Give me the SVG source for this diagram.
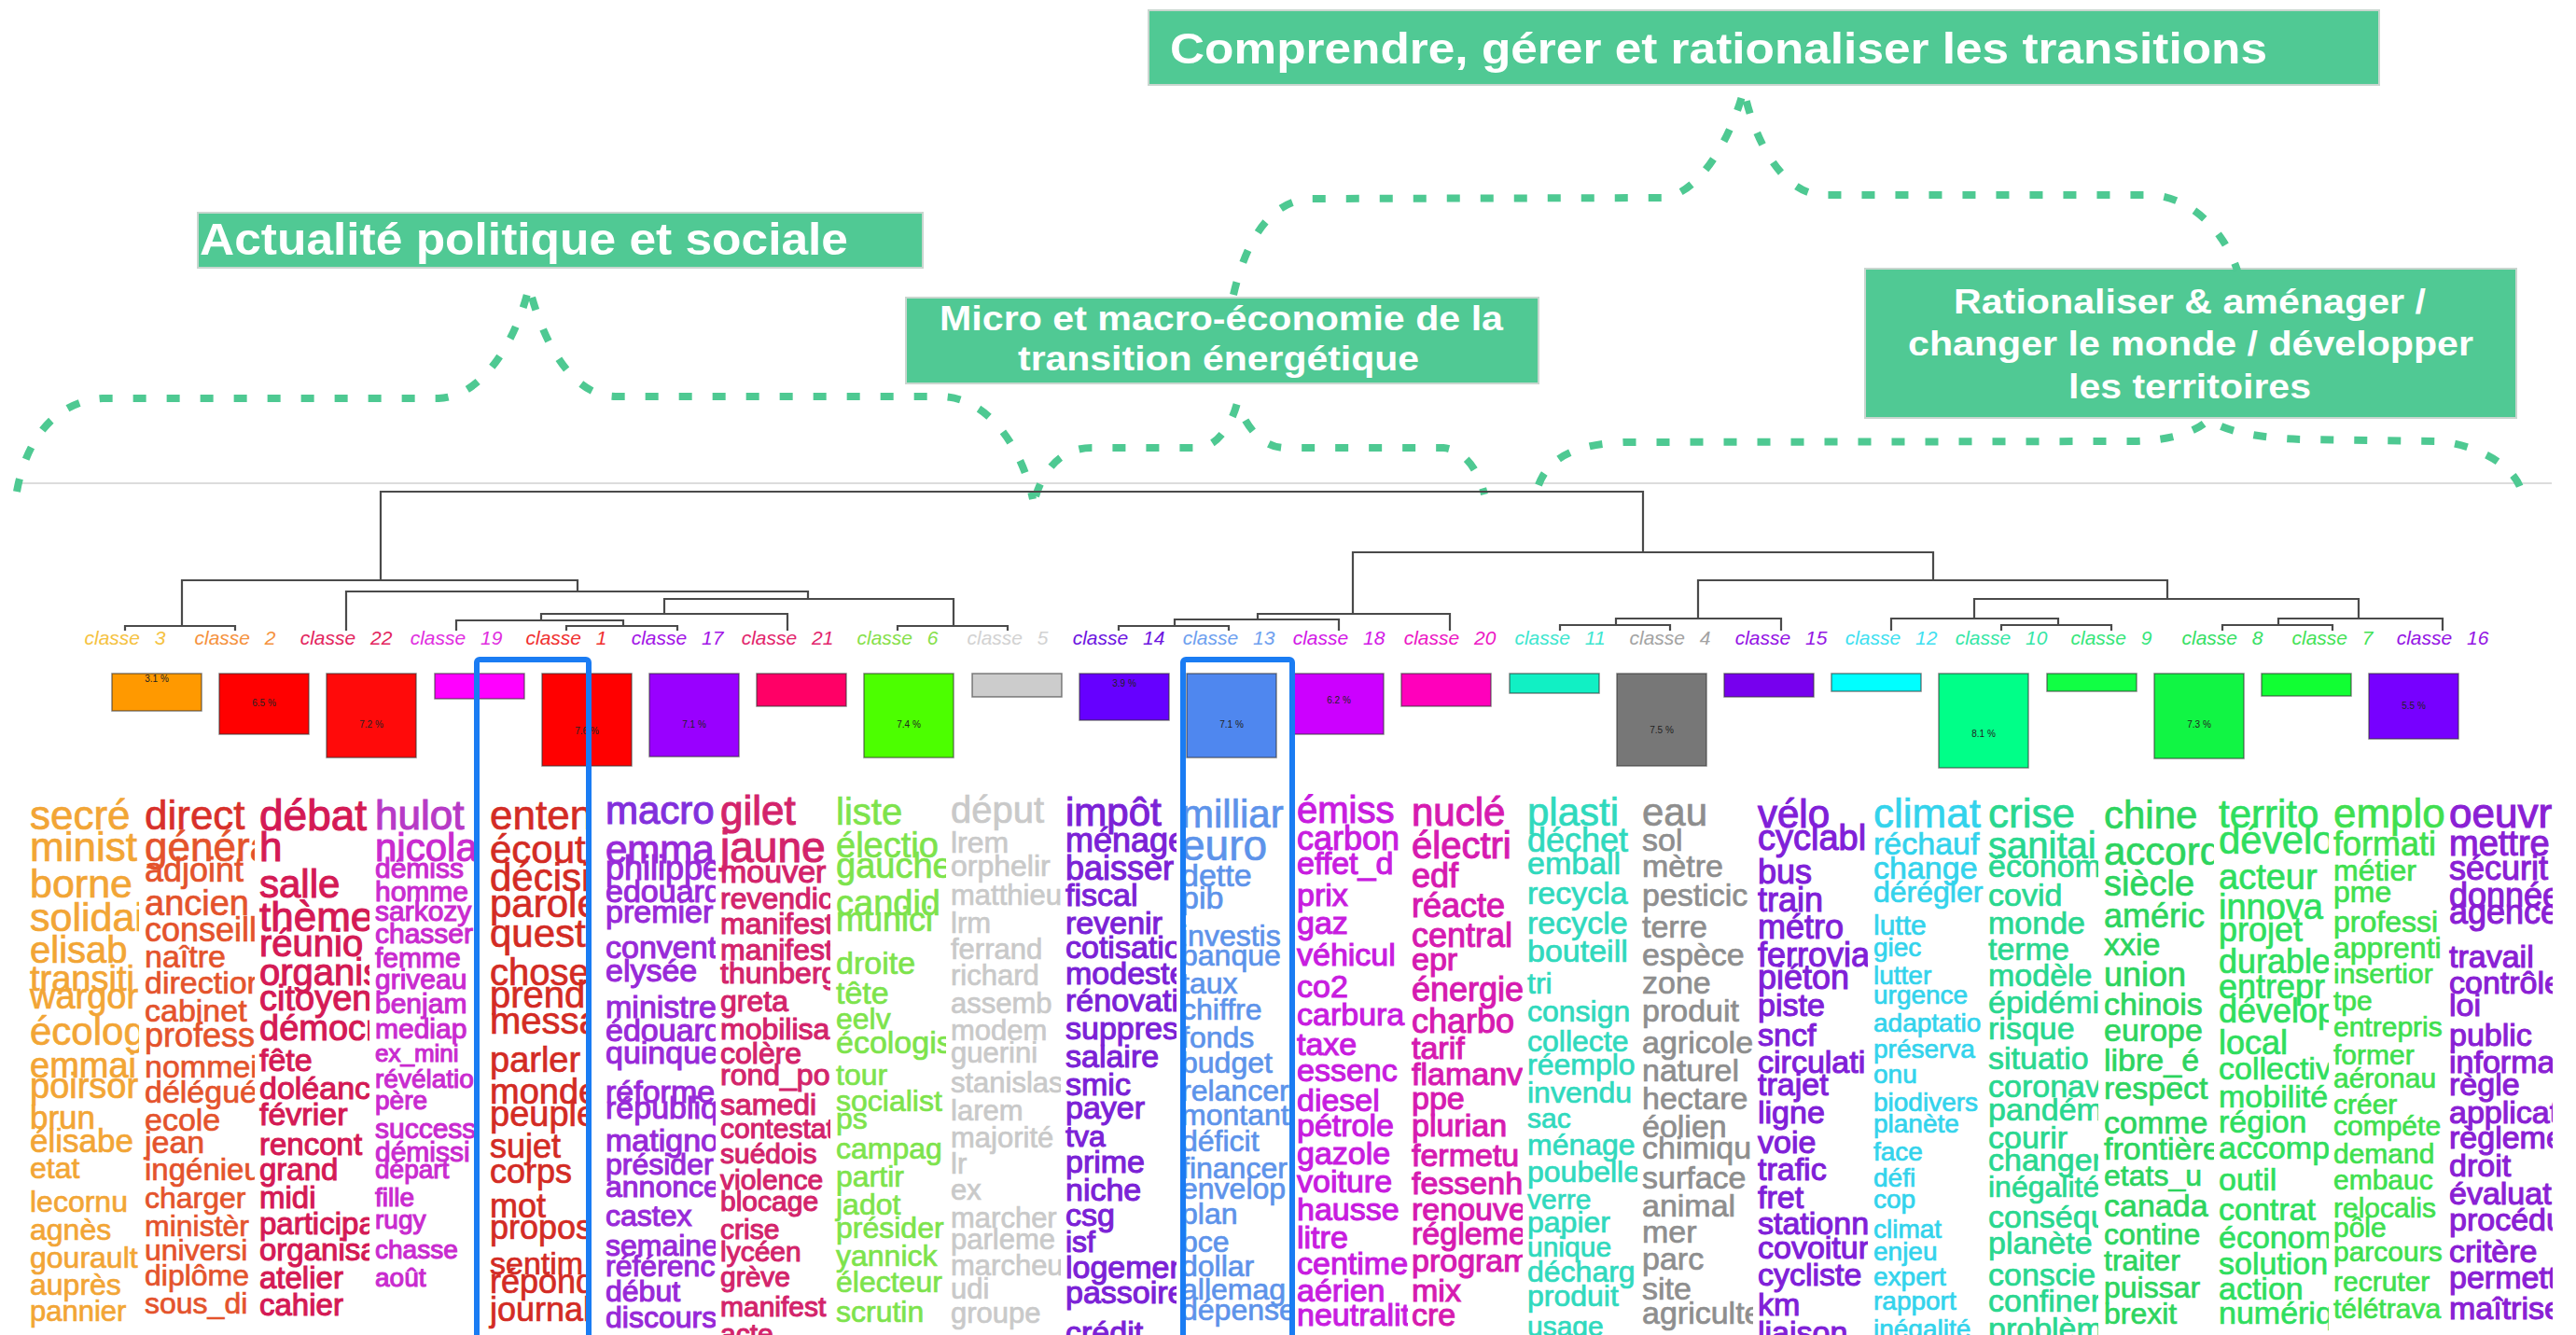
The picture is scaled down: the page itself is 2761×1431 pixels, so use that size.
<svg xmlns="http://www.w3.org/2000/svg" width="2761" height="1431" viewBox="0 0 2761 1431">
<style>
.box{fill:#50c994;stroke:#c9d6cf;stroke-width:2}
.tt{font-family:"Liberation Sans",Arial,sans-serif;font-weight:bold;fill:#fff}
.brace{fill:none;stroke:#4ec992;stroke-width:8;stroke-dasharray:14 22}
.den{fill:none;stroke:#4a4a4a;stroke-width:2.2}
.lab{font-family:"Liberation Sans",Arial,sans-serif;font-style:italic;font-size:21px;text-anchor:middle;word-spacing:10px}
.bar{stroke:#333;stroke-width:1.5;stroke-opacity:.6}
.pct{font-family:"Liberation Sans",Arial,sans-serif;font-size:10px;fill:#222;text-anchor:middle}
.w text{font-family:"Liberation Sans",Arial,sans-serif}
.w{stroke-width:0.7}
.wb{stroke-width:1.1}
.hl{fill:none;stroke:#1a7cf3;stroke-width:6}
</style>
<defs>
<clipPath id="c1"><rect x="28" y="845" width="121" height="600"/></clipPath>
<clipPath id="c2"><rect x="152" y="845" width="121" height="600"/></clipPath>
<clipPath id="c3"><rect x="275" y="845" width="121" height="600"/></clipPath>
<clipPath id="c4"><rect x="399" y="845" width="110" height="600"/></clipPath>
<clipPath id="c5"><rect x="514" y="845" width="114" height="600"/></clipPath>
<clipPath id="c6"><rect x="646" y="845" width="121" height="600"/></clipPath>
<clipPath id="c7"><rect x="769" y="845" width="121" height="600"/></clipPath>
<clipPath id="c8"><rect x="893" y="845" width="121" height="600"/></clipPath>
<clipPath id="c9"><rect x="1016" y="845" width="121" height="600"/></clipPath>
<clipPath id="c10"><rect x="1140" y="845" width="121" height="600"/></clipPath>
<clipPath id="c11"><rect x="1264" y="845" width="120" height="600"/></clipPath>
<clipPath id="c12"><rect x="1389" y="845" width="120" height="600"/></clipPath>
<clipPath id="c13"><rect x="1511" y="845" width="121" height="600"/></clipPath>
<clipPath id="c14"><rect x="1634" y="845" width="121" height="600"/></clipPath>
<clipPath id="c15"><rect x="1758" y="845" width="121" height="600"/></clipPath>
<clipPath id="c16"><rect x="1881" y="845" width="121" height="600"/></clipPath>
<clipPath id="c17"><rect x="2005" y="845" width="121" height="600"/></clipPath>
<clipPath id="c18"><rect x="2128" y="845" width="121" height="600"/></clipPath>
<clipPath id="c19"><rect x="2252" y="845" width="121" height="600"/></clipPath>
<clipPath id="c20"><rect x="2375" y="845" width="121" height="600"/></clipPath>
<clipPath id="c21"><rect x="2499" y="845" width="121" height="600"/></clipPath>
<clipPath id="c22"><rect x="2622" y="845" width="114" height="600"/></clipPath>
</defs>
<rect width="2761" height="1431" fill="#fff"/>

<g id="title-comprendre"><rect class="box" x="1231" y="11" width="1319" height="80"/><text class="tt" x="1254" y="68" font-size="46" textLength="1176" lengthAdjust="spacingAndGlyphs">Comprendre, gérer et rationaliser les transitions</text></g>
<g id="title-actualite"><rect class="box" x="212" y="228" width="777" height="59"/><text class="tt" x="214" y="273" font-size="48" textLength="695" lengthAdjust="spacingAndGlyphs">Actualité politique et sociale</text></g>
<g id="title-micro"><rect class="box" x="971" y="319" width="678" height="92"/><text class="tt" x="1309" y="354" font-size="36" text-anchor="middle" textLength="604" lengthAdjust="spacingAndGlyphs">Micro et macro-économie de la</text><text class="tt" x="1306" y="397" font-size="36" text-anchor="middle" textLength="430" lengthAdjust="spacingAndGlyphs">transition énergétique</text></g>
<g id="title-rationaliser"><rect class="box" x="1999" y="288" width="698" height="160"/><text class="tt" x="2347" y="336" font-size="36" text-anchor="middle" textLength="506" lengthAdjust="spacingAndGlyphs">Rationaliser &amp; aménager /</text><text class="tt" x="2348" y="381" font-size="36" text-anchor="middle" textLength="606" lengthAdjust="spacingAndGlyphs">changer le monde / développer</text><text class="tt" x="2347" y="427" font-size="36" text-anchor="middle" textLength="260" lengthAdjust="spacingAndGlyphs">les territoires</text></g>

<g id="connectors">
<line x1="18" y1="518" x2="2735" y2="518" stroke="#dcdcdc" stroke-width="2"/>
<path class="brace" d="M18,527 C28,470 60,430 110,427 L470,427 C520,425 555,360 567,307 C580,360 610,425 660,425 L1010,425 C1060,427 1095,480 1107,535"/>
<path class="brace" d="M1110,532 C1120,500 1140,480 1170,480 L1286,480 C1305,478 1320,455 1326,432 C1335,455 1350,478 1375,480 L1547,480 C1570,482 1585,505 1591,530"/>
<path class="brace" d="M1322,316 C1335,260 1360,215 1405,213 L1781,212 C1820,210 1855,150 1869,96 C1880,150 1910,207 1953,209 L2305,209 C2350,211 2385,250 2398,290"/>
<path class="brace" d="M1649,520 C1660,490 1690,476 1740,474 L2287,473 C2330,472 2355,462 2367,450 C2385,462 2420,470 2470,471 L2613,473 C2650,476 2690,495 2701,522"/>
<path class="den" d="M408,622 V527 H1761 V592
M195,671 V622 H619 V634
M134,676 V671 H252 V676
M371,676 V634 H866 V642
M712,658 V642 H1022 V671
M580,665 V658 H844 V676
M489,676 V665 H668 V671
M607,676 V671 H726 V676
M962,676 V671 H1080 V676
M1450,658 V592 H2072 V622
M1348,664 V658 H1554 V676
M1259,671 V664 H1435 V676
M1199,676 V671 H1317 V676
M1820,663 V622 H2323 V642
M1732,670 V663 H1909 V676
M1672,676 V670 H1790 V676
M2116,663 V642 H2528 V663
M2206,670 V663 H2027 V676
M2145,676 V670 H2263 V676
M2442,670 V663 H2618 V676
M2382,676 V670 H2500 V676"/>
</g>

<g id="classes">
<g id="classe-3"><text class="lab" x="134" y="691" fill="#f5c242">classe 3</text><rect class="bar" x="120" y="722" width="96" height="40" fill="#ff9900"/><text class="pct" x="168" y="731">3.1 %</text></g>
<g id="classe-2"><text class="lab" x="252" y="691" fill="#f5923e">classe 2</text><rect class="bar" x="235" y="722" width="96" height="65" fill="#ff0000"/><text class="pct" x="283" y="757">6.5 %</text></g>
<g id="classe-22"><text class="lab" x="371" y="691" fill="#e3245e">classe 22</text><rect class="bar" x="350" y="722" width="96" height="90" fill="#ff0a0a"/><text class="pct" x="398" y="780">7.2 %</text></g>
<g id="classe-19"><text class="lab" x="489" y="691" fill="#e02ee0">classe 19</text><rect class="bar" x="466" y="722" width="96" height="27" fill="#ff00ff"/></g>
<g id="classe-1"><text class="lab" x="607" y="691" fill="#f03030">classe 1</text><rect class="bar" x="581" y="722" width="96" height="99" fill="#ff0000"/><text class="pct" x="629" y="787">7.6 %</text></g>
<g id="classe-17"><text class="lab" x="726" y="691" fill="#a214e6">classe 17</text><rect class="bar" x="696" y="722" width="96" height="89" fill="#9900ff"/><text class="pct" x="744" y="780">7.1 %</text></g>
<g id="classe-21"><text class="lab" x="844" y="691" fill="#e2246c">classe 21</text><rect class="bar" x="811" y="722" width="96" height="35" fill="#ff0066"/></g>
<g id="classe-6"><text class="lab" x="962" y="691" fill="#86e04a">classe 6</text><rect class="bar" x="926" y="722" width="96" height="90" fill="#4cff00"/><text class="pct" x="974" y="780">7.4 %</text></g>
<g id="classe-5"><text class="lab" x="1080" y="691" fill="#d2d2d2">classe 5</text><rect class="bar" x="1042" y="722" width="96" height="25" fill="#cccccc"/></g>
<g id="classe-14"><text class="lab" x="1199" y="691" fill="#6d14e0">classe 14</text><rect class="bar" x="1157" y="722" width="96" height="50" fill="#6600ff"/><text class="pct" x="1205" y="736">3.9 %</text></g>
<g id="classe-13"><text class="lab" x="1317" y="691" fill="#6ea0ef">classe 13</text><rect class="bar" x="1272" y="722" width="96" height="90" fill="#4f87ef"/><text class="pct" x="1320" y="780">7.1 %</text></g>
<g id="classe-18"><text class="lab" x="1435" y="691" fill="#d218e6">classe 18</text><rect class="bar" x="1387" y="722" width="96" height="65" fill="#cc00ff"/><text class="pct" x="1435" y="754">6.2 %</text></g>
<g id="classe-20"><text class="lab" x="1554" y="691" fill="#ec18c4">classe 20</text><rect class="bar" x="1502" y="722" width="96" height="35" fill="#ff00bb"/></g>
<g id="classe-11"><text class="lab" x="1672" y="691" fill="#3ee6cf">classe 11</text><rect class="bar" x="1618" y="722" width="96" height="21" fill="#11f0c4"/></g>
<g id="classe-4"><text class="lab" x="1790" y="691" fill="#a3a3a3">classe 4</text><rect class="bar" x="1733" y="722" width="96" height="99" fill="#777777"/><text class="pct" x="1781" y="786">7.5 %</text></g>
<g id="classe-15"><text class="lab" x="1909" y="691" fill="#9414e4">classe 15</text><rect class="bar" x="1848" y="722" width="96" height="25" fill="#7700ee"/></g>
<g id="classe-12"><text class="lab" x="2027" y="691" fill="#40dff0">classe 12</text><rect class="bar" x="1963" y="722" width="96" height="19" fill="#00ffff"/></g>
<g id="classe-10"><text class="lab" x="2145" y="691" fill="#36e6a6">classe 10</text><rect class="bar" x="2078" y="722" width="96" height="101" fill="#00ff88"/><text class="pct" x="2126" y="790">8.1 %</text></g>
<g id="classe-9"><text class="lab" x="2263" y="691" fill="#36e67a">classe 9</text><rect class="bar" x="2194" y="722" width="96" height="19" fill="#11ff44"/></g>
<g id="classe-8"><text class="lab" x="2382" y="691" fill="#36e064">classe 8</text><rect class="bar" x="2309" y="722" width="96" height="91" fill="#11f544"/><text class="pct" x="2357" y="780">7.3 %</text></g>
<g id="classe-7"><text class="lab" x="2500" y="691" fill="#44e256">classe 7</text><rect class="bar" x="2424" y="722" width="96" height="24" fill="#11ff33"/></g>
<g id="classe-16"><text class="lab" x="2618" y="691" fill="#9414e4">classe 16</text><rect class="bar" x="2539" y="722" width="96" height="70" fill="#7700ff"/><text class="pct" x="2587" y="760">5.5 %</text></g>
</g>

<g id="words">
<g id="col-1" class="w" clip-path="url(#c1)" fill="#f2a535" stroke="#f2a535">
<text x="32" y="889" font-size="44">secré</text><text x="32" y="923" font-size="44">minist</text><text x="32" y="962" font-size="43">borne</text><text x="32" y="998" font-size="43">solidai</text><text x="32" y="1032" font-size="40">elisab</text><text x="32" y="1062" font-size="38">transiti</text><text x="32" y="1081" font-size="38">wargor</text><text x="32" y="1120" font-size="42">écolog</text><text x="32" y="1155" font-size="38">emmai</text><text x="32" y="1177" font-size="38">poirsor</text><text x="32" y="1210" font-size="35">brun</text><text x="32" y="1235" font-size="35">élisabe</text><text x="32" y="1263" font-size="32">etat</text><text x="32" y="1299" font-size="32">lecornu</text><text x="32" y="1329" font-size="32">agnès</text><text x="32" y="1359" font-size="32">gourault</text><text x="32" y="1388" font-size="32">auprès</text><text x="32" y="1416" font-size="31">pannier</text>
</g>
<g id="col-2" class="w" clip-path="url(#c2)" fill="#e4532c" stroke="#e4532c">
<text x="155" y="889" font-size="44" fill="#d8302a" stroke="#d8302a">direct</text><text x="155" y="923" font-size="44">généra</text><text x="155" y="945" font-size="36">adjoint</text><text x="155" y="981" font-size="38">ancien</text><text x="155" y="1009" font-size="36">conseill</text><text x="155" y="1037" font-size="34">naître</text><text x="155" y="1065" font-size="34">directior</text><text x="155" y="1095" font-size="34">cabinet</text><text x="155" y="1122" font-size="36">professe</text><text x="155" y="1155" font-size="34">nommei</text><text x="155" y="1182" font-size="34">délégué</text><text x="155" y="1212" font-size="34">ecole</text><text x="155" y="1236" font-size="34">jean</text><text x="155" y="1265" font-size="33">ingénieu</text><text x="155" y="1295" font-size="32">charger</text><text x="155" y="1325" font-size="32">ministèr</text><text x="155" y="1351" font-size="32">universi</text><text x="155" y="1378" font-size="32">diplôme</text><text x="155" y="1408" font-size="32">sous_di</text>
</g>
<g id="col-3" class="w wb" clip-path="url(#c3)" fill="#d41a55" stroke="#d41a55">
<text x="278" y="890" font-size="46">débat</text><text x="278" y="923" font-size="44">h</text><text x="278" y="962" font-size="42">salle</text><text x="278" y="998" font-size="44">thème</text><text x="278" y="1025" font-size="40">réunio</text><text x="278" y="1056" font-size="40">organis</text><text x="278" y="1083" font-size="38">citoyen</text><text x="278" y="1115" font-size="38">démocr</text><text x="278" y="1148" font-size="34">fête</text><text x="278" y="1178" font-size="34">doléanc</text><text x="278" y="1206" font-size="34">février</text><text x="278" y="1238" font-size="33">rencont</text><text x="278" y="1265" font-size="33">grand</text><text x="278" y="1295" font-size="33">midi</text><text x="278" y="1323" font-size="33">participa</text><text x="278" y="1351" font-size="33">organisa</text><text x="278" y="1381" font-size="33">atelier</text><text x="278" y="1410" font-size="33">cahier</text>
</g>
<g id="col-4" class="w wb" clip-path="url(#c4)" fill="#c92bcf" stroke="#c92bcf">
<text x="402" y="889" font-size="44" fill="#b73ac6" stroke="#b73ac6">hulot</text><text x="402" y="923" font-size="42">nicola</text><text x="402" y="941" font-size="30">démiss</text><text x="402" y="966" font-size="30">homme</text><text x="402" y="987" font-size="30">sarkozy</text><text x="402" y="1011" font-size="30">chasser</text><text x="402" y="1037" font-size="30">femme</text><text x="402" y="1060" font-size="30">griveau</text><text x="402" y="1086" font-size="30">benjam</text><text x="402" y="1113" font-size="30">mediap</text><text x="402" y="1138" font-size="26">ex_mini</text><text x="402" y="1166" font-size="28">révélatio</text><text x="402" y="1189" font-size="28">père</text><text x="402" y="1220" font-size="30">success</text><text x="402" y="1245" font-size="30">démissi</text><text x="402" y="1263" font-size="28">départ</text><text x="402" y="1293" font-size="28">fille</text><text x="402" y="1317" font-size="28">rugy</text><text x="402" y="1349" font-size="28">chasse</text><text x="402" y="1379" font-size="28">août</text>
</g>
<g id="col-5" class="w" clip-path="url(#c5)" fill="#d32b24" stroke="#d32b24">
<text x="525" y="889" font-size="44">enten</text><text x="525" y="925" font-size="42">écoute</text><text x="525" y="955" font-size="42">décisi</text><text x="525" y="983" font-size="42">parole</text><text x="525" y="1015" font-size="42">questi</text><text x="525" y="1056" font-size="40">chose</text><text x="525" y="1080" font-size="40">prendr</text><text x="525" y="1108" font-size="40">messa</text><text x="525" y="1149" font-size="38">parler</text><text x="525" y="1183" font-size="38">monde</text><text x="525" y="1207" font-size="38">peuple</text><text x="525" y="1241" font-size="36">sujet</text><text x="525" y="1268" font-size="36">corps</text><text x="525" y="1305" font-size="36">mot</text><text x="525" y="1328" font-size="36">propos</text><text x="525" y="1366" font-size="34">sentim</text><text x="525" y="1386" font-size="36">répond</text><text x="525" y="1416" font-size="36">journal</text>
</g>
<g id="col-6" class="w wb" clip-path="url(#c6)" fill="#982ad8" stroke="#982ad8">
<text x="649" y="883" font-size="42" fill="#8230dc" stroke="#8230dc">macro</text><text x="649" y="925" font-size="42">emma</text><text x="649" y="943" font-size="36">philippe</text><text x="649" y="967" font-size="34">edouard</text><text x="649" y="989" font-size="34">premier</text><text x="649" y="1027" font-size="34">convent</text><text x="649" y="1052" font-size="34">elysée</text><text x="649" y="1091" font-size="34">ministre</text><text x="649" y="1116" font-size="34">édouard</text><text x="649" y="1140" font-size="34">quinque</text><text x="649" y="1182" font-size="34">réforme</text><text x="649" y="1199" font-size="34">républiq</text><text x="649" y="1234" font-size="34">matigno</text><text x="649" y="1259" font-size="32">présider</text><text x="649" y="1283" font-size="32">annonce</text><text x="649" y="1314" font-size="32">castex</text><text x="649" y="1346" font-size="32">semaine</text><text x="649" y="1368" font-size="32">référenc</text><text x="649" y="1395" font-size="32">début</text><text x="649" y="1423" font-size="32">discours</text>
</g>
<g id="col-7" class="w wb" clip-path="url(#c7)" fill="#d3246b" stroke="#d3246b">
<text x="772" y="884" font-size="44">gilet</text><text x="772" y="924" font-size="46">jaune</text><text x="772" y="946" font-size="34">mouver</text><text x="772" y="974" font-size="32">revendic</text><text x="772" y="1001" font-size="32">manifest</text><text x="772" y="1029" font-size="32">manifest</text><text x="772" y="1054" font-size="32">thunberg</text><text x="772" y="1084" font-size="32">greta</text><text x="772" y="1114" font-size="32">mobilisa</text><text x="772" y="1140" font-size="32">colère</text><text x="772" y="1163" font-size="32">rond_po</text><text x="772" y="1195" font-size="32">samedi</text><text x="772" y="1220" font-size="30">contestat</text><text x="772" y="1247" font-size="30">suédois</text><text x="772" y="1275" font-size="30">violence</text><text x="772" y="1298" font-size="30">blocage</text><text x="772" y="1328" font-size="30">crise</text><text x="772" y="1352" font-size="30">lycéen</text><text x="772" y="1379" font-size="30">grève</text><text x="772" y="1411" font-size="30">manifest</text><text x="772" y="1440" font-size="30">acte</text>
</g>
<g id="col-8" class="w" clip-path="url(#c8)" fill="#7de34c" stroke="#7de34c">
<text x="896" y="884" font-size="40">liste</text><text x="896" y="919" font-size="38">électio</text><text x="896" y="941" font-size="38">gauche</text><text x="896" y="981" font-size="38">candid</text><text x="896" y="998" font-size="36">munici</text><text x="896" y="1044" font-size="34">droite</text><text x="896" y="1076" font-size="34">tête</text><text x="896" y="1103" font-size="32">eelv</text><text x="896" y="1129" font-size="34">écologis</text><text x="896" y="1163" font-size="32">tour</text><text x="896" y="1191" font-size="32">socialist</text><text x="896" y="1210" font-size="32">ps</text><text x="896" y="1242" font-size="32">campag</text><text x="896" y="1272" font-size="32">partir</text><text x="896" y="1302" font-size="32">jadot</text><text x="896" y="1327" font-size="32">présider</text><text x="896" y="1357" font-size="32">yannick</text><text x="896" y="1385" font-size="32">électeur</text><text x="896" y="1417" font-size="32">scrutin</text>
</g>
<g id="col-9" class="w" clip-path="url(#c9)" fill="#c9c9c9" stroke="#c9c9c9" stroke-width="0.3">
<text x="1019" y="882" font-size="40">déput</text><text x="1019" y="914" font-size="32">lrem</text><text x="1019" y="939" font-size="32">orphelir</text><text x="1019" y="970" font-size="31">matthieu</text><text x="1019" y="1000" font-size="31">lrm</text><text x="1019" y="1028" font-size="31">ferrand</text><text x="1019" y="1056" font-size="31">richard</text><text x="1019" y="1086" font-size="31">assemb</text><text x="1019" y="1115" font-size="31">modem</text><text x="1019" y="1139" font-size="31">guerini</text><text x="1019" y="1171" font-size="31">stanislas</text><text x="1019" y="1201" font-size="31">larem</text><text x="1019" y="1230" font-size="31">majorité</text><text x="1019" y="1258" font-size="31">lr</text><text x="1019" y="1286" font-size="31">ex</text><text x="1019" y="1316" font-size="31">marcher</text><text x="1019" y="1339" font-size="31">parleme</text><text x="1019" y="1367" font-size="31">marcheu</text><text x="1019" y="1392" font-size="31">udi</text><text x="1019" y="1418" font-size="31">groupe</text>
</g>
<g id="col-10" class="w wb" clip-path="url(#c10)" fill="#7b22d6" stroke="#7b22d6">
<text x="1142" y="885" font-size="42">impôt</text><text x="1142" y="913" font-size="36">ménage</text><text x="1142" y="943" font-size="36">baisser</text><text x="1142" y="971" font-size="34">fiscal</text><text x="1142" y="1001" font-size="34">revenir</text><text x="1142" y="1027" font-size="34">cotisatio</text><text x="1142" y="1055" font-size="34">modeste</text><text x="1142" y="1084" font-size="34">rénovati</text><text x="1142" y="1114" font-size="34">suppres</text><text x="1142" y="1144" font-size="34">salaire</text><text x="1142" y="1174" font-size="34">smic</text><text x="1142" y="1199" font-size="34">payer</text><text x="1142" y="1229" font-size="32">tva</text><text x="1142" y="1257" font-size="34">prime</text><text x="1142" y="1287" font-size="34">niche</text><text x="1142" y="1314" font-size="34">csg</text><text x="1142" y="1342" font-size="32">isf</text><text x="1142" y="1370" font-size="34">logemen</text><text x="1142" y="1397" font-size="34">passoire</text><text x="1142" y="1440" font-size="34">crédit</text>
</g>
<g id="col-11" class="w" clip-path="url(#c11)" fill="#5d93ea" stroke="#5d93ea">
<text x="1266" y="887" font-size="42">milliar</text><text x="1266" y="922" font-size="46">euro</text><text x="1266" y="950" font-size="34">dette</text><text x="1266" y="974" font-size="34">pib</text><text x="1266" y="1014" font-size="32">investis</text><text x="1266" y="1035" font-size="32">banque</text><text x="1266" y="1065" font-size="32">taux</text><text x="1266" y="1093" font-size="32">chiffre</text><text x="1266" y="1123" font-size="32">fonds</text><text x="1266" y="1150" font-size="32">budget</text><text x="1266" y="1180" font-size="32">relancer</text><text x="1266" y="1206" font-size="32">montant</text><text x="1266" y="1234" font-size="32">déficit</text><text x="1266" y="1263" font-size="32">financer</text><text x="1266" y="1285" font-size="32">envelop</text><text x="1266" y="1312" font-size="32">plan</text><text x="1266" y="1342" font-size="32">bce</text><text x="1266" y="1368" font-size="32">dollar</text><text x="1266" y="1393" font-size="32">allemag</text><text x="1266" y="1415" font-size="32">dépense</text>
</g>
<g id="col-12" class="w wb" clip-path="url(#c12)" fill="#c81ddf" stroke="#c81ddf">
<text x="1390" y="882" font-size="40">émiss</text><text x="1390" y="911" font-size="36">carbon</text><text x="1390" y="937" font-size="34">effet_d</text><text x="1390" y="971" font-size="34">prix</text><text x="1390" y="1001" font-size="34">gaz</text><text x="1390" y="1035" font-size="34">véhicul</text><text x="1390" y="1069" font-size="34">co2</text><text x="1390" y="1099" font-size="34">carbura</text><text x="1390" y="1131" font-size="34">taxe</text><text x="1390" y="1159" font-size="34">essenc</text><text x="1390" y="1191" font-size="34">diesel</text><text x="1390" y="1218" font-size="34">pétrole</text><text x="1390" y="1248" font-size="34">gazole</text><text x="1390" y="1278" font-size="34">voiture</text><text x="1390" y="1308" font-size="34">hausse</text><text x="1390" y="1338" font-size="34">litre</text><text x="1390" y="1366" font-size="34">centime</text><text x="1390" y="1395" font-size="34">aérien</text><text x="1390" y="1421" font-size="34">neutralit</text>
</g>
<g id="col-13" class="w wb" clip-path="url(#c13)" fill="#d61bb0" stroke="#d61bb0">
<text x="1513" y="885" font-size="42">nuclé</text><text x="1513" y="920" font-size="40">électri</text><text x="1513" y="951" font-size="36">edf</text><text x="1513" y="983" font-size="36">réacte</text><text x="1513" y="1015" font-size="36">central</text><text x="1513" y="1040" font-size="34">epr</text><text x="1513" y="1073" font-size="36">énergie</text><text x="1513" y="1107" font-size="36">charbo</text><text x="1513" y="1135" font-size="34">tarif</text><text x="1513" y="1163" font-size="34">flamanv</text><text x="1513" y="1189" font-size="34">ppe</text><text x="1513" y="1218" font-size="34">plurian</text><text x="1513" y="1250" font-size="34">fermetu</text><text x="1513" y="1280" font-size="34">fessenh</text><text x="1513" y="1308" font-size="34">renouve</text><text x="1513" y="1334" font-size="34">régleme</text><text x="1513" y="1363" font-size="34">program</text><text x="1513" y="1395" font-size="34">mix</text><text x="1513" y="1421" font-size="34">cre</text>
</g>
<g id="col-14" class="w" clip-path="url(#c14)" fill="#30d9bd" stroke="#30d9bd">
<text x="1637" y="885" font-size="42">plasti</text><text x="1637" y="913" font-size="36">déchet</text><text x="1637" y="937" font-size="34">emball</text><text x="1637" y="969" font-size="34">recycla</text><text x="1637" y="1001" font-size="34">recycle</text><text x="1637" y="1031" font-size="34">bouteill</text><text x="1637" y="1065" font-size="32">tri</text><text x="1637" y="1095" font-size="32">consign</text><text x="1637" y="1127" font-size="32">collecte</text><text x="1637" y="1152" font-size="32">réemplo</text><text x="1637" y="1182" font-size="32">invendu</text><text x="1637" y="1209" font-size="30">sac</text><text x="1637" y="1238" font-size="32">ménage</text><text x="1637" y="1267" font-size="32">poubelle</text><text x="1637" y="1296" font-size="30">verre</text><text x="1637" y="1321" font-size="32">papier</text><text x="1637" y="1347" font-size="30">unique</text><text x="1637" y="1374" font-size="32">décharg</text><text x="1637" y="1400" font-size="32">produit</text><text x="1637" y="1432" font-size="30">usage</text>
</g>
<g id="col-15" class="w" clip-path="url(#c15)" fill="#8e8e8e" stroke="#8e8e8e" stroke-width="0.3">
<text x="1760" y="885" font-size="42">eau</text><text x="1760" y="912" font-size="34">sol</text><text x="1760" y="940" font-size="34">mètre</text><text x="1760" y="971" font-size="34">pesticic</text><text x="1760" y="1005" font-size="34">terre</text><text x="1760" y="1035" font-size="34">espèce</text><text x="1760" y="1065" font-size="34">zone</text><text x="1760" y="1095" font-size="34">produit</text><text x="1760" y="1129" font-size="34">agricole</text><text x="1760" y="1159" font-size="34">naturel</text><text x="1760" y="1189" font-size="34">hectare</text><text x="1760" y="1219" font-size="34">éolien</text><text x="1760" y="1242" font-size="34">chimiqu</text><text x="1760" y="1274" font-size="34">surface</text><text x="1760" y="1304" font-size="34">animal</text><text x="1760" y="1332" font-size="34">mer</text><text x="1760" y="1361" font-size="34">parc</text><text x="1760" y="1393" font-size="34">site</text><text x="1760" y="1419" font-size="34">agriculte</text>
</g>
<g id="col-16" class="w wb" clip-path="url(#c16)" fill="#8020d8" stroke="#8020d8">
<text x="1884" y="887" font-size="42">vélo</text><text x="1884" y="911" font-size="38">cyclabl</text><text x="1884" y="947" font-size="36">bus</text><text x="1884" y="977" font-size="36">train</text><text x="1884" y="1006" font-size="36">métro</text><text x="1884" y="1036" font-size="36">ferrovia</text><text x="1884" y="1060" font-size="36">piéton</text><text x="1884" y="1089" font-size="34">piste</text><text x="1884" y="1121" font-size="34">sncf</text><text x="1884" y="1150" font-size="34">circulati</text><text x="1884" y="1174" font-size="34">trajet</text><text x="1884" y="1204" font-size="34">ligne</text><text x="1884" y="1236" font-size="34">voie</text><text x="1884" y="1265" font-size="34">trafic</text><text x="1884" y="1295" font-size="34">fret</text><text x="1884" y="1323" font-size="34">stationn</text><text x="1884" y="1349" font-size="34">covoitur</text><text x="1884" y="1378" font-size="34">cycliste</text><text x="1884" y="1410" font-size="34">km</text><text x="1884" y="1440" font-size="34">liaison</text>
</g>
<g id="col-17" class="w" clip-path="url(#c17)" fill="#33d3ec" stroke="#33d3ec">
<text x="2008" y="887" font-size="44">climat</text><text x="2008" y="916" font-size="34">réchauf</text><text x="2008" y="942" font-size="34">change</text><text x="2008" y="967" font-size="32">dérégler</text><text x="2008" y="1002" font-size="30">lutte</text><text x="2008" y="1025" font-size="28">giec</text><text x="2008" y="1055" font-size="28">lutter</text><text x="2008" y="1076" font-size="28">urgence</text><text x="2008" y="1106" font-size="28">adaptatio</text><text x="2008" y="1134" font-size="28">préserva</text><text x="2008" y="1161" font-size="28">onu</text><text x="2008" y="1191" font-size="28">biodivers</text><text x="2008" y="1214" font-size="28">planète</text><text x="2008" y="1244" font-size="28">face</text><text x="2008" y="1272" font-size="28">défi</text><text x="2008" y="1295" font-size="28">cop</text><text x="2008" y="1327" font-size="28">climat</text><text x="2008" y="1351" font-size="28">enjeu</text><text x="2008" y="1378" font-size="28">expert</text><text x="2008" y="1404" font-size="28">rapport</text><text x="2008" y="1434" font-size="28">inégalité</text>
</g>
<g id="col-18" class="w" clip-path="url(#c18)" fill="#29d78f" stroke="#29d78f">
<text x="2131" y="887" font-size="44">crise</text><text x="2131" y="920" font-size="40">sanitai</text><text x="2131" y="940" font-size="34">économ</text><text x="2131" y="971" font-size="34">covid</text><text x="2131" y="1001" font-size="34">monde</text><text x="2131" y="1029" font-size="34">terme</text><text x="2131" y="1057" font-size="34">modèle</text><text x="2131" y="1086" font-size="34">épidémi</text><text x="2131" y="1114" font-size="34">risque</text><text x="2131" y="1146" font-size="34">situatio</text><text x="2131" y="1176" font-size="34">coronav</text><text x="2131" y="1201" font-size="34">pandém</text><text x="2131" y="1231" font-size="34">courir</text><text x="2131" y="1255" font-size="34">changer</text><text x="2131" y="1283" font-size="32">inégalité</text><text x="2131" y="1316" font-size="34">conséqu</text><text x="2131" y="1344" font-size="34">planète</text><text x="2131" y="1378" font-size="34">conscie</text><text x="2131" y="1406" font-size="34">confiner</text><text x="2131" y="1436" font-size="34">problèm</text>
</g>
<g id="col-19" class="w" clip-path="url(#c19)" fill="#2dd45e" stroke="#2dd45e">
<text x="2255" y="888" font-size="42">chine</text><text x="2255" y="927" font-size="42">accord</text><text x="2255" y="960" font-size="38">siècle</text><text x="2255" y="994" font-size="36">améric</text><text x="2255" y="1024" font-size="34">xxie</text><text x="2255" y="1057" font-size="36">union</text><text x="2255" y="1088" font-size="34">chinois</text><text x="2255" y="1116" font-size="34">europe</text><text x="2255" y="1148" font-size="34">libre_é</text><text x="2255" y="1178" font-size="34">respect</text><text x="2255" y="1215" font-size="34">comme</text><text x="2255" y="1243" font-size="34">frontière</text><text x="2255" y="1271" font-size="32">etats_u</text><text x="2255" y="1304" font-size="34">canada</text><text x="2255" y="1334" font-size="32">contine</text><text x="2255" y="1362" font-size="32">traiter</text><text x="2255" y="1391" font-size="32">puissar</text><text x="2255" y="1419" font-size="32">brexit</text>
</g>
<g id="col-20" class="w" clip-path="url(#c20)" fill="#2fde5e" stroke="#2fde5e">
<text x="2378" y="887" font-size="42">territo</text><text x="2378" y="915" font-size="42">dévelo</text><text x="2378" y="953" font-size="38">acteur</text><text x="2378" y="985" font-size="38">innova</text><text x="2378" y="1009" font-size="36">projet</text><text x="2378" y="1043" font-size="36">durable</text><text x="2378" y="1070" font-size="36">entrepr</text><text x="2378" y="1096" font-size="36">dévelop</text><text x="2378" y="1130" font-size="36">local</text><text x="2378" y="1157" font-size="34">collectiv</text><text x="2378" y="1187" font-size="34">mobilité</text><text x="2378" y="1214" font-size="34">région</text><text x="2378" y="1242" font-size="34">accomp</text><text x="2378" y="1276" font-size="34">outil</text><text x="2378" y="1308" font-size="34">contrat</text><text x="2378" y="1338" font-size="34">économ</text><text x="2378" y="1366" font-size="34">solution</text><text x="2378" y="1393" font-size="34">action</text><text x="2378" y="1419" font-size="34">numériq</text>
</g>
<g id="col-21" class="w" clip-path="url(#c21)" fill="#40df4f" stroke="#40df4f">
<text x="2501" y="887" font-size="44">emplo</text><text x="2501" y="917" font-size="36">formati</text><text x="2501" y="944" font-size="32">métier</text><text x="2501" y="967" font-size="32">pme</text><text x="2501" y="999" font-size="32">professi</text><text x="2501" y="1027" font-size="32">apprenti</text><text x="2501" y="1054" font-size="30">insertior</text><text x="2501" y="1083" font-size="30">tpe</text><text x="2501" y="1111" font-size="30">entrepris</text><text x="2501" y="1141" font-size="30">former</text><text x="2501" y="1166" font-size="30">aéronau</text><text x="2501" y="1194" font-size="30">créer</text><text x="2501" y="1217" font-size="30">compéte</text><text x="2501" y="1247" font-size="30">demand</text><text x="2501" y="1275" font-size="30">embauc</text><text x="2501" y="1305" font-size="30">relocalis</text><text x="2501" y="1326" font-size="30">pôle</text><text x="2501" y="1352" font-size="30">parcours</text><text x="2501" y="1384" font-size="30">recruter</text><text x="2501" y="1413" font-size="30">télétrava</text>
</g>
<g id="col-22" class="w wb" clip-path="url(#c22)" fill="#8a20d4" stroke="#8a20d4">
<text x="2625" y="887" font-size="44">oeuvr</text><text x="2625" y="917" font-size="38">mettre</text><text x="2625" y="943" font-size="36">sécurit</text><text x="2625" y="972" font-size="36">donnée</text><text x="2625" y="990" font-size="36">agence</text><text x="2625" y="1037" font-size="34">travail</text><text x="2625" y="1065" font-size="34">contrôle</text><text x="2625" y="1089" font-size="34">loi</text><text x="2625" y="1121" font-size="34">public</text><text x="2625" y="1150" font-size="34">informa</text><text x="2625" y="1174" font-size="34">règle</text><text x="2625" y="1204" font-size="34">applicat</text><text x="2625" y="1231" font-size="34">règleme</text><text x="2625" y="1261" font-size="34">droit</text><text x="2625" y="1291" font-size="34">évaluati</text><text x="2625" y="1319" font-size="34">procédu</text><text x="2625" y="1353" font-size="34">critère</text><text x="2625" y="1381" font-size="34">permett</text><text x="2625" y="1414" font-size="34">maîtrise</text>
</g>
</g>

<g id="highlights">
<rect class="hl" x="511" y="707" width="120" height="760" rx="3"/>
<rect class="hl" x="1268" y="707" width="117" height="760" rx="3"/>
</g>
</svg>
